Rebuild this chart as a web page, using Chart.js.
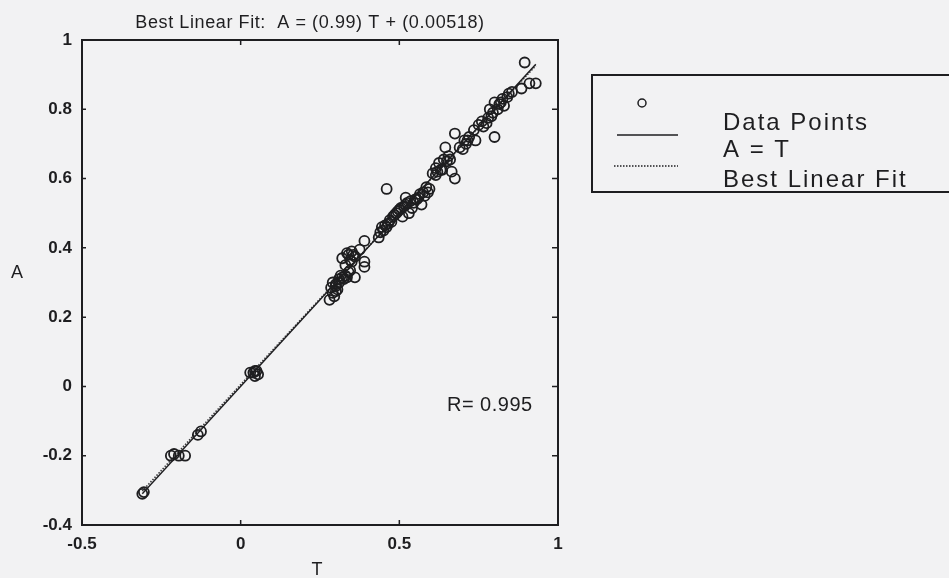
<!DOCTYPE html>
<html>
<head>
<meta charset="utf-8">
<title>Best Linear Fit</title>
<script src="https://cdn.jsdelivr.net/npm/chart.js@4.4.0/dist/chart.umd.min.js"></script>
<style>
  body { margin: 0; background: #f2f2f3; }
  canvas { display: block; }
</style>
</head>
<body>
<canvas id="fitChart" width="949" height="578"></canvas>
<script>
// targets (T) and network outputs (A)
const tVals = [-0.31, -0.22, -0.21, -0.195, -0.175, -0.135, -0.125, 0.03, 0.045, 0.055, 0.045,
  0.29, 0.30, 0.31, 0.285, 0.295, 0.28, 0.305, 0.32, 0.335, 0.36, 0.345, 0.32, 0.335, 0.35, 0.345,
  0.33, 0.35, 0.39, 0.375, 0.39, 0.39, 0.44, 0.445, 0.46, 0.435, 0.47, 0.48, 0.46, 0.50, 0.515,
  0.525, 0.53, 0.51, 0.54, 0.52, 0.55, 0.565, 0.58, 0.595, 0.49, 0.555, 0.57, 0.59, 0.605, 0.615,
  0.625, 0.64, 0.655, 0.635, 0.665, 0.675, 0.645, 0.675, 0.70, 0.71, 0.715, 0.74, 0.735, 0.75,
  0.76, 0.775, 0.79, 0.80, 0.785, 0.80, 0.815, 0.81, 0.83, 0.825, 0.845, 0.855, 0.885, 0.91, 0.93,
  0.895, 0.615, 0.63, 0.72, 0.84,
  -0.305, 0.04, 0.05, 0.30, 0.31, 0.315, 0.325, 0.30, 0.29, 0.34, 0.33, 0.355, 0.34, 0.36,
  0.45, 0.455, 0.465, 0.475, 0.485, 0.495, 0.505, 0.52, 0.535, 0.545, 0.56, 0.575, 0.585,
  0.62, 0.65, 0.66, 0.69, 0.705, 0.765, 0.78, 0.795, 0.82];
const aVals = [-0.31, -0.20, -0.195, -0.20, -0.20, -0.14, -0.13, 0.04, 0.045, 0.035, 0.03,
  0.27, 0.295, 0.31, 0.285, 0.26, 0.25, 0.28, 0.315, 0.315, 0.315, 0.335, 0.37, 0.385, 0.39, 0.365,
  0.35, 0.36, 0.42, 0.395, 0.36, 0.345, 0.445, 0.46, 0.46, 0.43, 0.48, 0.49, 0.57, 0.51, 0.52,
  0.53, 0.50, 0.49, 0.515, 0.545, 0.54, 0.555, 0.55, 0.57, 0.50, 0.54, 0.525, 0.56, 0.615, 0.63,
  0.645, 0.655, 0.665, 0.625, 0.62, 0.60, 0.69, 0.73, 0.685, 0.70, 0.71, 0.71, 0.74, 0.755,
  0.765, 0.76, 0.78, 0.72, 0.80, 0.82, 0.815, 0.80, 0.81, 0.83, 0.845, 0.85, 0.86, 0.875, 0.875,
  0.935, 0.61, 0.625, 0.72, 0.835,
  -0.305, 0.04, 0.045, 0.29, 0.30, 0.32, 0.31, 0.275, 0.30, 0.33, 0.32, 0.38, 0.38, 0.375,
  0.45, 0.465, 0.47, 0.475, 0.495, 0.505, 0.515, 0.525, 0.535, 0.53, 0.545, 0.56, 0.575,
  0.62, 0.65, 0.655, 0.69, 0.71, 0.75, 0.775, 0.79, 0.82];

// end points of the two reference lines
const lineT = [-0.31, 0.93];
const idealA = [-0.31, 0.93];     // A = T
const fitA = [-0.302, 0.926];     // A = 0.99 T + 0.00518

const xTicks = [-0.5, 0, 0.5, 1];
const yTicks = [-0.4, -0.2, 0, 0.2, 0.4, 0.6, 0.8, 1];

const titleText = 'Best Linear Fit:  A = (0.99) T + (0.00518)';
const rText = 'R= 0.995';
const legendLabels = ['Data Points', 'A = T', 'Best Linear Fit'];

const ink = '#1e1e20';
const fontFam = '"Liberation Sans", Arial, sans-serif';
Chart.defaults.font.family = fontFam;
Chart.defaults.color = ink;

const points = tVals.map((t, i) => ({ x: t, y: aVals[i] }));
const idealLine = lineT.map((t, i) => ({ x: t, y: idealA[i] }));
const fitLine = lineT.map((t, i) => ({ x: t, y: fitA[i] }));

const fmt = v => String(Number(v.toFixed(2)));

// box, inward ticks, title, axis names, R value and the legend
const decor = {
  id: 'decor',
  beforeDraw(chart) {
    const c = chart.ctx;
    c.save();
    c.fillStyle = '#f2f2f3';
    c.fillRect(0, 0, chart.width, chart.height);
    c.restore();
  },
  afterDraw(chart) {
    const c = chart.ctx, a = chart.chartArea;
    const sx = chart.scales.x, sy = chart.scales.y;
    c.save();
    c.strokeStyle = ink;
    c.lineWidth = 2;
    c.strokeRect(a.left, a.top, a.right - a.left, a.bottom - a.top);

    c.lineWidth = 1.5;
    c.beginPath();
    sx.ticks.forEach(t => {
      const p = sx.getPixelForValue(t.value);
      c.moveTo(p, a.bottom); c.lineTo(p, a.bottom - 5);
      c.moveTo(p, a.top); c.lineTo(p, a.top + 5);
    });
    sy.ticks.forEach(t => {
      const p = sy.getPixelForValue(t.value);
      c.moveTo(a.left, p); c.lineTo(a.left + 4, p);
      c.moveTo(a.right, p); c.lineTo(a.right - 6, p);
    });
    c.stroke();

    c.fillStyle = ink;
    c.textAlign = 'center';
    c.textBaseline = 'alphabetic';
    c.font = '18px ' + fontFam;
    c.letterSpacing = '0.6px';
    c.fillText(titleText, (a.left + a.right) / 2 - 10, 28);

    c.letterSpacing = '0px';
    c.textBaseline = 'middle';
    c.fillText('A', 17, 273);
    c.fillText('T', (a.left + a.right) / 2 - 3, 570);

    c.textAlign = 'left';
    c.textBaseline = 'alphabetic';
    c.font = '20px ' + fontFam;
    c.letterSpacing = '0.5px';
    c.fillText(rText, sx.getPixelForValue(0.65), sy.getPixelForValue(-0.072));

    // legend
    c.lineWidth = 2;
    c.strokeRect(592, 75, 420, 117);
    const ds = chart.data.datasets;
    c.lineWidth = 1.5;
    c.beginPath();
    c.arc(642, 103, 4, 0, Math.PI * 2);
    c.stroke();
    c.beginPath();
    c.moveTo(617, 135); c.lineTo(678, 135);
    c.stroke();
    c.setLineDash(ds[2].borderDash);
    c.beginPath();
    c.moveTo(614, 166); c.lineTo(678, 166);
    c.stroke();
    c.setLineDash([]);
    c.font = '24px ' + fontFam;
    c.letterSpacing = '2px';
    const baselines = [130, 157, 187];
    legendLabels.forEach((txt, i) => c.fillText(txt, 723, baselines[i]));
    c.restore();
  }
};

const ctx = document.getElementById('fitChart').getContext('2d');
const fitChart = new Chart(ctx, {
  type: 'scatter',
  data: {
    datasets: [{
      label: legendLabels[0],
      data: points,
      showLine: false,
      pointStyle: 'circle',
      pointRadius: 5,
      pointBorderWidth: 1.8,
      borderColor: ink,
      backgroundColor: 'rgba(0,0,0,0)'
    }, {
      label: legendLabels[1],
      data: idealLine,
      showLine: true,
      pointRadius: 0,
      borderColor: ink,
      borderWidth: 1.4
    }, {
      label: legendLabels[2],
      data: fitLine,
      showLine: true,
      pointRadius: 0,
      borderColor: '#3a3a3c',
      borderWidth: 1.6,
      borderDash: [1.5, 1.5]
    }]
  },
  options: {
    responsive: false,
    animation: false,
    layout: { padding: { left: 0, top: 40, right: 391, bottom: 0 } },
    plugins: {
      legend: { display: false },
      tooltip: { enabled: false }
    },
    scales: {
      x: {
        type: 'linear',
        min: -0.5,
        max: 1,
        afterBuildTicks: s => { s.ticks = xTicks.map(v => ({ value: v })); },
        afterFit: s => { s.height = 53; },
        grid: { display: false, drawTicks: false },
        border: { display: false },
        ticks: { padding: 9, maxRotation: 0, font: { size: 17, weight: 'bold' }, callback: fmt }
      },
      y: {
        type: 'linear',
        min: -0.4,
        max: 1,
        afterBuildTicks: s => { s.ticks = yTicks.map(v => ({ value: v })); },
        afterFit: s => { s.width = 82; },
        grid: { display: false, drawTicks: false },
        border: { display: false },
        ticks: { padding: 10, font: { size: 17, weight: 'bold' }, callback: fmt }
      }
    }
  },
  plugins: [decor]
});
</script>
</body>
</html>
